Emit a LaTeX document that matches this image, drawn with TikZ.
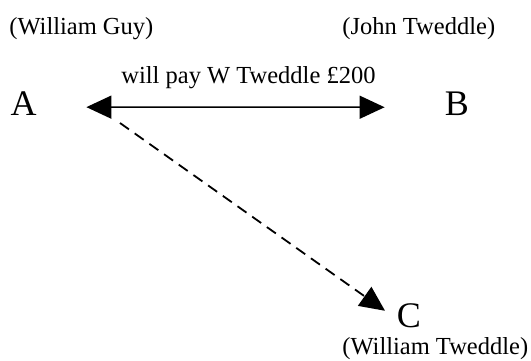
\documentclass[tikz,border=0pt]{standalone}
\usepackage{fontspec}
\setmainfont{Liberation Serif}
\usetikzlibrary{arrows.meta}

\begin{document}
\begin{tikzpicture}[x=0.5pt,y=-0.5pt,
    >={Triangle[length=12.5pt,width=11.5pt]},
    party/.style={inner sep=0pt,anchor=base,font=\fontsize{18}{20}\selectfont},
    who/.style={inner sep=0pt,anchor=base west,font=\fontsize{12.25}{14}\selectfont},
  ]
              \useasboundingbox (0,0) rectangle (531,360);
              \node[party] (a) at (23.5,115) {A};
              \node[party] (b) at (457,115) {B};
              \node[party] (c) at (409,327) {C};
              \node[who] (aname) at (9,34) {(William Guy)};
              \node[who] (bname) at (342,34) {(John Tweddle)};
              \node[who] (cname) at (342,354) {(William Tweddle)};
              \node[who] (pay) at (121,83) {will pay W Tweddle £200};
              \coordinate (from) at (120,123);

              %a<>b
              \draw[<->,line width=0.75pt,shorten <=24.75pt,shorten >=30pt] ([yshift=-2pt]a.east) -- ([yshift=-2pt]b.west);

              %a>c
              \draw[->,line width=0.9pt,dash pattern=on 5.5pt off 3.5pt,shorten >=14.7pt] (from) -- (c.south);
            \end{tikzpicture}
\end{document}
